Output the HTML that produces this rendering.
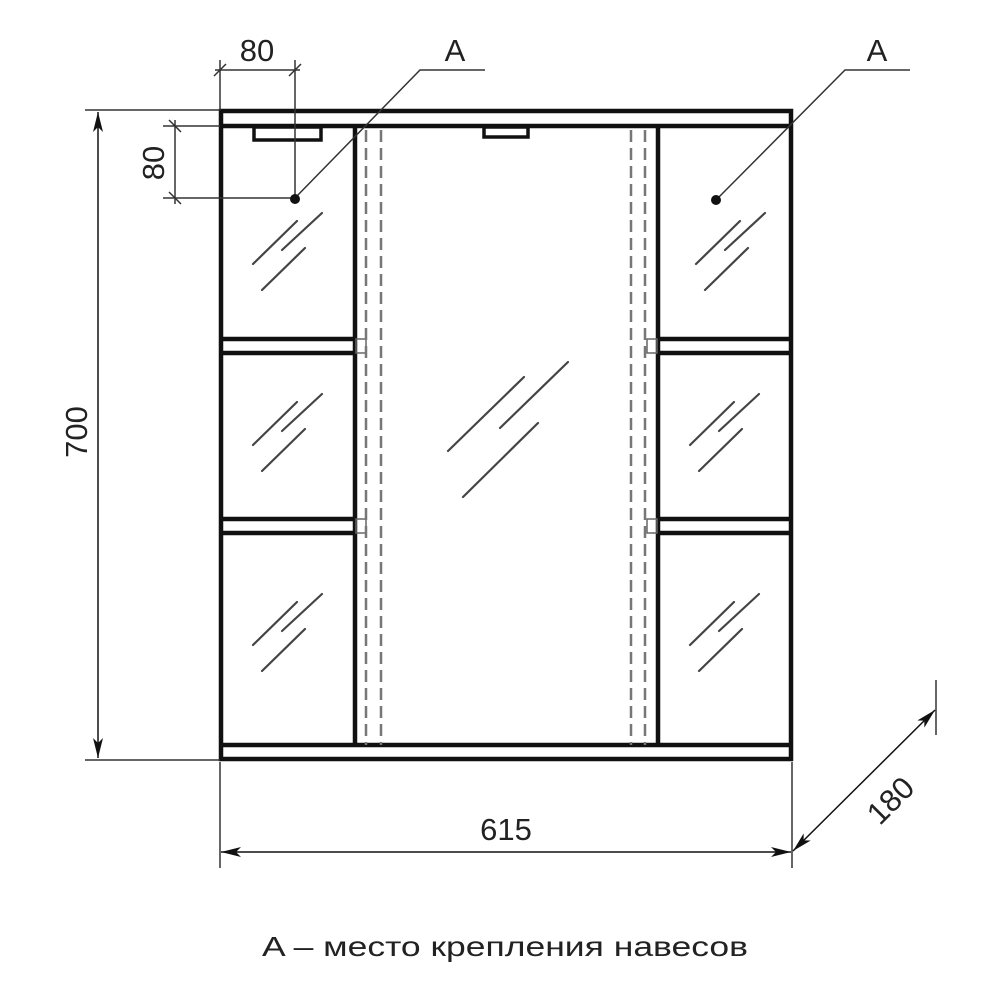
<!DOCTYPE html>
<html><head><meta charset="utf-8"><style>html,body{margin:0;padding:0;background:#fff}svg{display:block}</style></head>
<body>
<svg width="1000" height="1000" viewBox="0 0 1000 1000" xmlns="http://www.w3.org/2000/svg" font-family="Liberation Sans, DejaVu Sans, sans-serif">
<defs>
<marker id="ar" viewBox="0 0 20 10" refX="20" refY="5" markerWidth="20" markerHeight="10" markerUnits="userSpaceOnUse" orient="auto-start-reverse"><path d="M0,0 L20,5 L0,10 L5,5 Z" fill="#111"/></marker>
<g id="h" stroke="#444" stroke-width="2.2" stroke-linecap="round"><line x1="253" y1="445" x2="297" y2="402"/><line x1="282" y1="431" x2="322" y2="394"/><line x1="262" y1="471" x2="305" y2="429"/></g>
</defs>
<g fill="none" stroke="#111" stroke-width="4.5">
<rect x="221" y="111" width="570" height="648"/>
<line x1="221" y1="126" x2="791" y2="126"/>
<line x1="221" y1="745" x2="791" y2="745"/>
<line x1="355" y1="126" x2="355" y2="745"/>
<line x1="658" y1="126" x2="658" y2="745"/>
<line x1="221" y1="339" x2="355" y2="339"/><line x1="221" y1="353" x2="355" y2="353"/>
<line x1="221" y1="519" x2="355" y2="519"/><line x1="221" y1="533" x2="355" y2="533"/>
<line x1="658" y1="339" x2="791" y2="339"/><line x1="658" y1="353" x2="791" y2="353"/>
<line x1="658" y1="519" x2="791" y2="519"/><line x1="658" y1="533" x2="791" y2="533"/>
</g>
<rect x="254" y="127" width="67" height="13" fill="none" stroke="#111" stroke-width="3.5"/>
<rect x="484" y="127" width="44" height="10" fill="none" stroke="#111" stroke-width="3.5"/>
<g fill="none" stroke="#666" stroke-width="1.5">
<rect x="356" y="339" width="10" height="14"/><rect x="356" y="519" width="10" height="14"/>
<rect x="647" y="339" width="10" height="14"/><rect x="647" y="519" width="10" height="14"/>
</g>
<g stroke="#777" stroke-width="2.5" stroke-dasharray="12,6">
<line x1="366" y1="130" x2="366" y2="745"/><line x1="381" y1="130" x2="381" y2="745"/>
<line x1="631" y1="130" x2="631" y2="745"/><line x1="645" y1="130" x2="645" y2="745"/>
</g>
<use href="#h" transform="translate(0,-181)"/>
<use href="#h"/>
<use href="#h" transform="translate(0,200)"/>
<use href="#h" transform="translate(443,-181)"/>
<use href="#h" transform="translate(437,0)"/>
<use href="#h" transform="translate(437,200)"/>
<g stroke="#444" stroke-width="2.2" stroke-linecap="round">
<line x1="448" y1="451" x2="524" y2="377"/><line x1="500" y1="428" x2="568" y2="362"/><line x1="463" y1="497" x2="538" y2="423"/>
</g>
<g stroke="#333" stroke-width="1.5" fill="none">
<line x1="220" y1="60" x2="220" y2="110"/><line x1="295" y1="60" x2="295" y2="198"/>
<line x1="215" y1="70" x2="300" y2="70"/>
<line x1="214" y1="76" x2="226" y2="64"/><line x1="289" y1="76" x2="301" y2="64"/>
<line x1="163" y1="126" x2="220" y2="126"/><line x1="163" y1="198" x2="295" y2="198"/>
<line x1="175" y1="120" x2="175" y2="204"/>
<line x1="169" y1="120" x2="181" y2="132"/><line x1="169" y1="192" x2="181" y2="204"/>
<line x1="85" y1="110" x2="220" y2="110"/><line x1="85" y1="760" x2="220" y2="760"/>
<line x1="220" y1="762" x2="220" y2="868"/><line x1="792" y1="762" x2="792" y2="868"/>
<line x1="936" y1="680" x2="936" y2="735"/>
<polyline points="295,198 420,70 485,70"/>
<polyline points="716,200 845,70 910,70"/>
</g>
<g stroke="#111" stroke-width="1.5">
<line x1="98" y1="112" x2="98" y2="758" marker-start="url(#ar)" marker-end="url(#ar)"/>
<line x1="221" y1="852" x2="791" y2="852" marker-start="url(#ar)" marker-end="url(#ar)"/>
<line x1="793" y1="851" x2="935" y2="710" marker-start="url(#ar)" marker-end="url(#ar)"/>
</g>
<circle cx="295" cy="199" r="5" fill="#111"/>
<circle cx="716" cy="200" r="5" fill="#111"/>
<g fill="#222" font-size="31">
<text x="257" y="61" text-anchor="middle">80</text>
<text x="455" y="61" text-anchor="middle">A</text>
<text x="877" y="61" text-anchor="middle">A</text>
<text transform="translate(164,163) rotate(-90)" text-anchor="middle">80</text>
<text transform="translate(87,432) rotate(-90)" text-anchor="middle">700</text>
<text x="506" y="840" text-anchor="middle">615</text>
<text transform="translate(898,808) rotate(-45)" text-anchor="middle">180</text>
<text x="262" y="956" font-size="28" textLength="486" lengthAdjust="spacingAndGlyphs">A – место крепления навесов</text>
</g>
</svg>
</body></html>
